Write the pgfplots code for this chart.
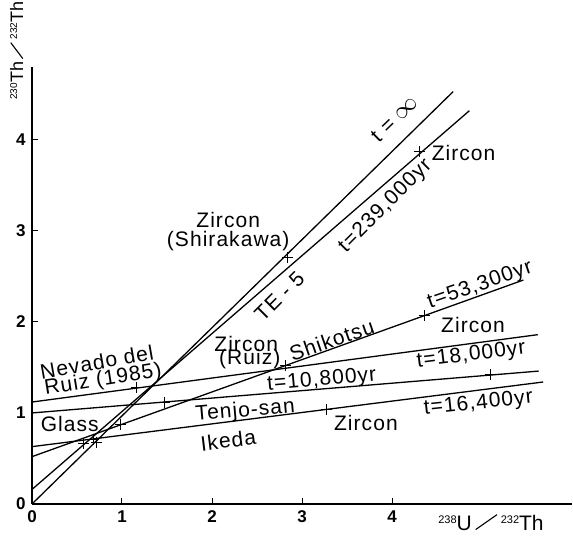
\documentclass[border=0pt]{standalone}
\usepackage{fontspec}
\setmainfont{Liberation Sans}
\newfontfamily\labfont[LetterSpace=5]{Liberation Sans}
\usepackage{pgfplots}
\pgfplotsset{compat=1.18}
\tikzset{lab/.style={font=\labfont\fontsize{21}{22}\selectfont, inner sep=0pt, align=center}}
\begin{document}
\begin{tikzpicture}
\useasboundingbox (-32pt,-36pt) rectangle (541pt,504pt);
\begin{axis}[
  scale only axis, width=540pt, height=437pt,
  xmin=0, xmax=6, ymin=0, ymax=4.8,
  axis lines=left, axis line style={-, line width=1.3pt},
  xtick={0,1,2,3,4}, ytick={0,1,2,3,4},
  tick align=inside, major tick length=6pt,
  tick style={line width=1pt, black},
  ticklabel style={font=\fontsize{17}{17}\selectfont\bfseries},
  xticklabel style={yshift=-3pt},
  yticklabel style={xshift=-3pt},
  /pgf/number format/assume math mode=true,
  clip=false,
  every axis plot/.append style={line width=1.3pt, black},
]
% lines
\addplot[no marks] coordinates {(0,0) (4.68,4.53)};
\addplot[no marks] coordinates {(0,0.16) (4.86,4.32)};
\addplot[no marks] coordinates {(0,0.52) (5.46,2.46)};
\addplot[no marks] coordinates {(0,1.12) (5.62,1.86)};
\addplot[no marks] coordinates {(0,1.00) (5.63,1.46)};
\addplot[no marks] coordinates {(0,0.63) (5.68,1.34)};
% data points
\addplot[only marks, mark=+, mark size=5.5pt, mark options={line width=1pt}] coordinates {
(4.30,3.87) (2.84,2.71) (4.36,2.07) (2.82,1.52) (0.98,0.87) (1.16,1.28)
(1.47,1.12) (5.09,1.42) (3.27,1.04) (0.57,0.66) (0.68,0.71) (0.72,0.68)};
% labels
\node[lab, rotate=44] at (axis cs:4.03,4.23) {t = {\fontsize{24}{24}\selectfont$\infty$}};
\node[lab, rotate=45] at (axis cs:3.93,3.27) {t=239,000yr};
\node[lab, anchor=west] at (axis cs:4.44,3.86) {Zircon};
\node[lab] at (axis cs:2.18,3.12) {Zircon};
\node[lab] at (axis cs:2.18,2.89) {(Shirakawa)};
\node[lab, rotate=45] at (axis cs:2.75,2.28) {TE - 5};
\node[lab] at (axis cs:2.38,1.76) {Zircon};
\node[lab] at (axis cs:2.42,1.59) {(Ruiz)};
\node[lab, rotate=19] at (axis cs:3.33,1.80) {Shikotsu};
\node[lab, rotate=19] at (axis cs:4.98,2.40) {t=53,300yr};
\node[lab] at (axis cs:4.90,1.97) {Zircon};
\node[lab, rotate=7] at (axis cs:4.88,1.63) {t=18,000yr};
\node[lab, rotate=5] at (axis cs:3.22,1.36) {t=10,800yr};
\node[lab, rotate=5] at (axis cs:2.37,1.02) {Tenjo-san};
\node[lab] at (axis cs:0.42,0.88) {Glass};
\node[lab, rotate=10] at (axis cs:2.18,0.70) {\rotatebox{-3}{Ikeda}};
\node[lab, rotate=10] at (axis cs:0.72,1.56) {Nevado del};
\node[lab, rotate=9] at (axis cs:0.79,1.36) {Ruiz (1985)};
\node[lab] at (axis cs:3.71,0.89) {Zircon};
\node[lab, rotate=6] at (axis cs:4.96,1.10) {t=16,400yr};
% axis titles
\node[inner sep=0pt, rotate=90] at (axis cs:-0.17,4.98) {\fontsize{18}{18}\selectfont\raisebox{6pt}{\fontsize{10}{10}\selectfont 230}Th\,\rotatebox{37}{\rule{20pt}{1.1pt}}\,\raisebox{6pt}{\fontsize{10}{10}\selectfont 232}Th};
\node[inner sep=0pt] at (axis cs:5.10,-0.2) {\fontsize{21}{21}\selectfont\raisebox{7pt}{\fontsize{11}{11}\selectfont 238}U\,\rotatebox{35}{\rule{26pt}{1.1pt}}\,\raisebox{7pt}{\fontsize{11}{11}\selectfont 232}Th};
\end{axis}
\end{tikzpicture}
\end{document}
